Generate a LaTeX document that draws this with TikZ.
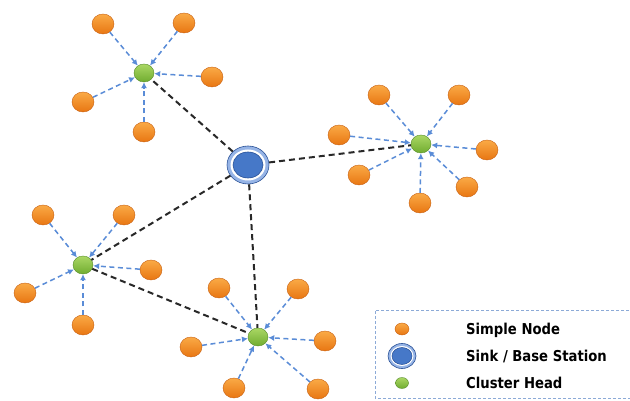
\documentclass[tikz,border=0pt]{standalone}
\usepackage{fontspec}
\setmainfont{DejaVu Sans}
\usetikzlibrary{shapes.geometric,arrows.meta}
\definecolor{orfill}{RGB}{232,118,18}
\definecolor{orlight}{RGB}{250,170,70}
\definecolor{ordark}{RGB}{200,95,15}
\definecolor{grfill}{RGB}{112,172,48}
\definecolor{grlight}{RGB}{170,215,100}
\definecolor{grdark}{RGB}{85,140,40}
\definecolor{sinkblue}{RGB}{70,120,200}
\definecolor{sinkdark}{RGB}{40,80,150}
\definecolor{sinkring}{RGB}{150,180,230}
\definecolor{arrblue}{RGB}{90,140,215}
\definecolor{darkline}{RGB}{40,40,40}
\definecolor{legborder}{RGB}{140,170,215}
\tikzset{
  simple/.style={ellipse, minimum width=22pt, minimum height=20pt, inner sep=0pt,
    top color=orlight, bottom color=orfill, draw=ordark, line width=0.4pt},
  head/.style={ellipse, minimum width=20pt, minimum height=18pt, inner sep=0pt,
    top color=grlight, bottom color=grfill, draw=grdark, line width=0.4pt},
  sinknode/.style={ellipse, minimum width=42pt, minimum height=38pt, inner sep=0pt,
    fill=sinkring, draw=sinkdark, line width=0.6pt},
  toch/.style={draw=arrblue, line width=1.5pt, dash pattern=on 5pt off 3.5pt,
    -{Latex[length=6pt,width=6pt]}},
  backbone/.style={draw=darkline, line width=2pt, dash pattern=on 6pt off 4pt},
  legtext/.style={anchor=west, inner sep=0pt, font=\bfseries\fontsize{15}{17}\selectfont}
}
\begin{document}
\begin{tikzpicture}[x=1pt,y=-1pt]
\useasboundingbox (0,0) rectangle (630,401);
\fill[white] (0,0) rectangle (630,401);
% cluster heads and sink
\node[sinknode] (sink) at (248,165) {};
\fill[white] (sink.center) ellipse (17.5 and 15.5);
\draw[fill=sinkblue, draw=sinkdark, line width=0.6pt] (sink.center) ellipse (15 and 13);
\node[head] (ch1) at (144,73) {};
\node[head] (ch2) at (421,144) {};
\node[head] (ch3) at (83,265) {};
\node[head] (ch4) at (258,337) {};
% backbone
\draw[backbone] (sink) -- (ch1);
\draw[backbone] (sink) -- (ch2);
\draw[backbone] (sink) -- (ch3);
\draw[backbone] (sink) -- (ch4);
\draw[backbone] (ch3) -- (ch4);
% cluster 1
\node[simple] (a1) at (103,24) {};
\node[simple] (a2) at (184,23) {};
\node[simple] (a3) at (212,77) {};
\node[simple] (a4) at (83,102) {};
\node[simple] (a5) at (144,132) {};
\foreach \n in {a1,a2,a3,a4,a5} \draw[toch] (\n) -- (ch1);
% cluster 2
\node[simple] (b1) at (379,95) {};
\node[simple] (b2) at (459,95) {};
\node[simple] (b3) at (339,135) {};
\node[simple] (b4) at (487,150) {};
\node[simple] (b5) at (359,175) {};
\node[simple] (b6) at (467,187) {};
\node[simple] (b7) at (420,203) {};
\foreach \n in {b1,b2,b3,b4,b5,b6,b7} \draw[toch] (\n) -- (ch2);
% cluster 3
\node[simple] (c1) at (43,215) {};
\node[simple] (c2) at (124,215) {};
\node[simple] (c3) at (151,270) {};
\node[simple] (c4) at (25,293) {};
\node[simple] (c5) at (83,325) {};
\foreach \n in {c1,c2,c3,c4,c5} \draw[toch] (\n) -- (ch3);
% cluster 4
\node[simple] (d1) at (219,288) {};
\node[simple] (d2) at (298,289) {};
\node[simple] (d3) at (191,347) {};
\node[simple] (d4) at (325,341) {};
\node[simple] (d5) at (234,388) {};
\node[simple] (d6) at (318,389) {};
\foreach \n in {d1,d2,d3,d4,d5,d6} \draw[toch] (\n) -- (ch4);
% legend
\draw[legborder, line width=0.8pt, dash pattern=on 3pt off 2pt] (634,310) -- (375,310) -- (375,398) -- (634,398);
\node[simple, minimum width=14pt, minimum height=12pt] (lo) at (402,329) {};
\node[sinknode, minimum width=28pt, minimum height=25pt] (ls) at (402,356) {};
\fill[white] (ls.center) ellipse (11.5 and 10);
\draw[fill=sinkblue, draw=sinkdark, line width=0.5pt] (ls.center) ellipse (10 and 8.5);
\node[head, minimum width=13pt, minimum height=11pt] (lg) at (402,383) {};
\node[legtext] (t1) at (466,330) {\scalebox{0.88}[1]{Simple Node}};
\node[legtext] (t2) at (466,356) {\scalebox{0.88}[1]{Sink / Base Station}};
\node[legtext] (t3) at (466,383) {\scalebox{0.88}[1]{Cluster Head}};
\end{tikzpicture}
\end{document}
